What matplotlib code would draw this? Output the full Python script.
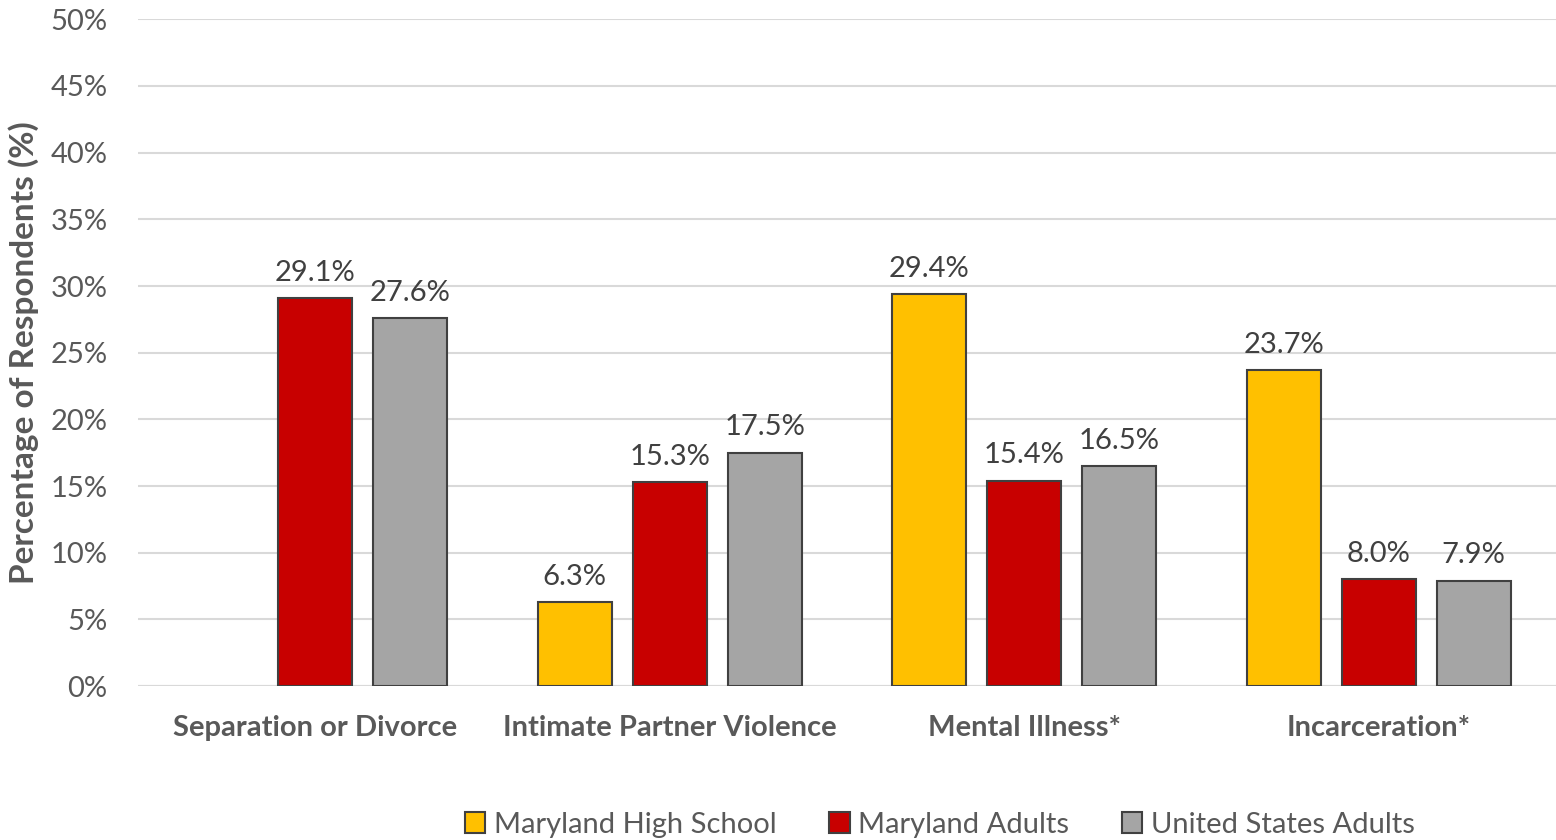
import numpy as np
import matplotlib.pyplot as plt

plt.rcParams['font.family'] = ['Lato', 'DejaVu Sans']

categories = ['Separation or Divorce', 'Intimate Partner Violence', 'Mental Illness*', 'Incarceration*']
series_names = ['Maryland High School', 'Maryland Adults', 'United States Adults']
md_high_school = [np.nan, 6.3, 29.4, 23.7]
md_adults = [29.1, 15.3, 15.4, 8.0]
us_adults = [27.6, 17.5, 16.5, 7.9]
colors = ['#ffc000', '#c80000', '#a5a5a5']

fig = plt.figure(figsize=(15.56, 8.4), dpi=100)
ax = fig.add_axes([0.0887, 0.1833, 0.9113, 0.7937])

x = np.arange(len(categories))
width = 0.209
step = 0.268
for i, (vals, col, name) in enumerate(zip([md_high_school, md_adults, us_adults], colors, series_names)):
    pos = x + (i - 1) * step
    ax.bar(pos, vals, width, color=col, edgecolor='#404040', linewidth=1.5, label=name, zorder=3)
    for xp, v in zip(pos, vals):
        if np.isnan(v):
            continue
        ax.annotate(f'{v:.1f}%', (xp, v), xytext=(0, 9), textcoords='offset points',
                    ha='center', va='bottom', fontsize=21, color='#404040')

ax.set_xlim(-0.5, 3.5)
ax.set_ylim(0, 50)
ax.set_yticks(np.arange(0, 51, 5))
ax.set_yticklabels([f'{t}%' for t in range(0, 51, 5)], fontsize=21, color='#595959')
ax.set_xticks(x)
ax.set_xticklabels(categories, fontsize=21, fontweight='bold', color='#595959')
ax.tick_params(axis='both', length=0)
ax.tick_params(axis='y', pad=22)
ax.tick_params(axis='x', pad=21)
ax.grid(axis='y', color='#d9d9d9', linewidth=1.5, zorder=0)
for s in ax.spines.values():
    s.set_visible(False)
ax.axhline(0, color='#d9d9d9', linewidth=1.5, zorder=1)
ax.set_ylabel('Percentage of Respondents (%)', fontsize=24, fontweight='bold', color='#595959', labelpad=8)

fig.legend(loc='center', bbox_to_anchor=(0.604, 0.018), ncol=3, frameon=False, fontsize=21,
           labelcolor='#595959', handlelength=0.7, handleheight=0.7, handletextpad=0.3, columnspacing=1.8)

fig.savefig('out.png', dpi=100)
